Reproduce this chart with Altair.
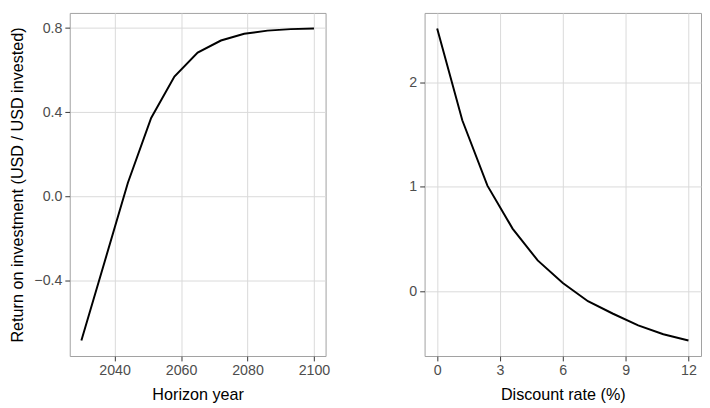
import altair as alt
import pandas as pd

# Left panel: return on investment vs horizon year
years = [2030, 2037, 2044, 2051, 2058, 2065, 2072, 2079, 2086, 2093, 2100]
roi_by_year = [-0.684, -0.31, 0.065, 0.373, 0.570, 0.684, 0.741, 0.773, 0.788, 0.795, 0.798]

# Right panel: return on investment vs discount rate (%)
rates = [0.0, 1.2, 2.4, 3.6, 4.8, 6.0, 7.2, 8.4, 9.6, 10.8, 12.0]
roi_by_rate = [2.512, 1.635, 1.01, 0.60, 0.296, 0.08, -0.094, -0.214, -0.325, -0.41, -0.469]

left_x_ticks = [2040, 2060, 2080, 2100]
left_y_ticks = [-0.4, 0.0, 0.4, 0.8]
right_x_ticks = [0, 3, 6, 9, 12]
right_y_ticks = [0, 1, 2]

df_year = pd.DataFrame({"year": years, "roi": roi_by_year})
df_rate = pd.DataFrame({"rate": rates, "roi": roi_by_rate})

FONT = "Liberation Sans"
LABEL_COLOR = "#4d4d4d"
TICK_COLOR = "#333333"
GRID_COLOR = "#d9d9d9"

def axis(values, title, fmt=None, title_padding=10):
    kw = dict(
        values=values,
        grid=True,
        gridColor=GRID_COLOR,
        gridWidth=1,
        domain=False,
        ticks=True,
        tickColor=TICK_COLOR,
        tickSize=5,
        tickWidth=1,
        labelFont=FONT,
        labelFontSize=14.5,
        labelColor=LABEL_COLOR,
        labelPadding=3,
        titleFont=FONT,
        titleFontSize=16.5,
        titleFontWeight="normal",
        titleColor="#000000",
        titlePadding=title_padding,
    )
    if fmt is not None:
        kw["format"] = fmt
    return alt.Axis(title=title, **kw)

left = alt.Chart(df_year).mark_line(color="black", strokeWidth=2).encode(
    x=alt.X("year:Q",
            scale=alt.Scale(domain=[2026.5, 2103.5], nice=False, zero=False),
            axis=axis(left_x_ticks, "Horizon year", "d")),
    y=alt.Y("roi:Q",
            scale=alt.Scale(domain=[-0.758, 0.872], nice=False, zero=False),
            axis=axis(left_y_ticks, "Return on investment (USD / USD invested)", ".1f", 9)),
).properties(width=261, height=350)

right = alt.Chart(df_rate).mark_line(color="black", strokeWidth=2).encode(
    x=alt.X("rate:Q",
            scale=alt.Scale(domain=[-0.6, 12.6], nice=False, zero=False),
            axis=axis(right_x_ticks, "Discount rate (%)", "d")),
    y=alt.Y("roi:Q",
            scale=alt.Scale(domain=[-0.618, 2.661], nice=False, zero=False),
            axis=axis(right_y_ticks, None, "d")),
).properties(width=282, height=350)

chart = alt.hconcat(left, right, spacing=79).properties(
    padding=0,
    background="white",
).configure_view(
    stroke="#a0a0a0",
    strokeWidth=1,
)

chart.save("out.html", embed_options={"renderer": "svg", "actions": False})
